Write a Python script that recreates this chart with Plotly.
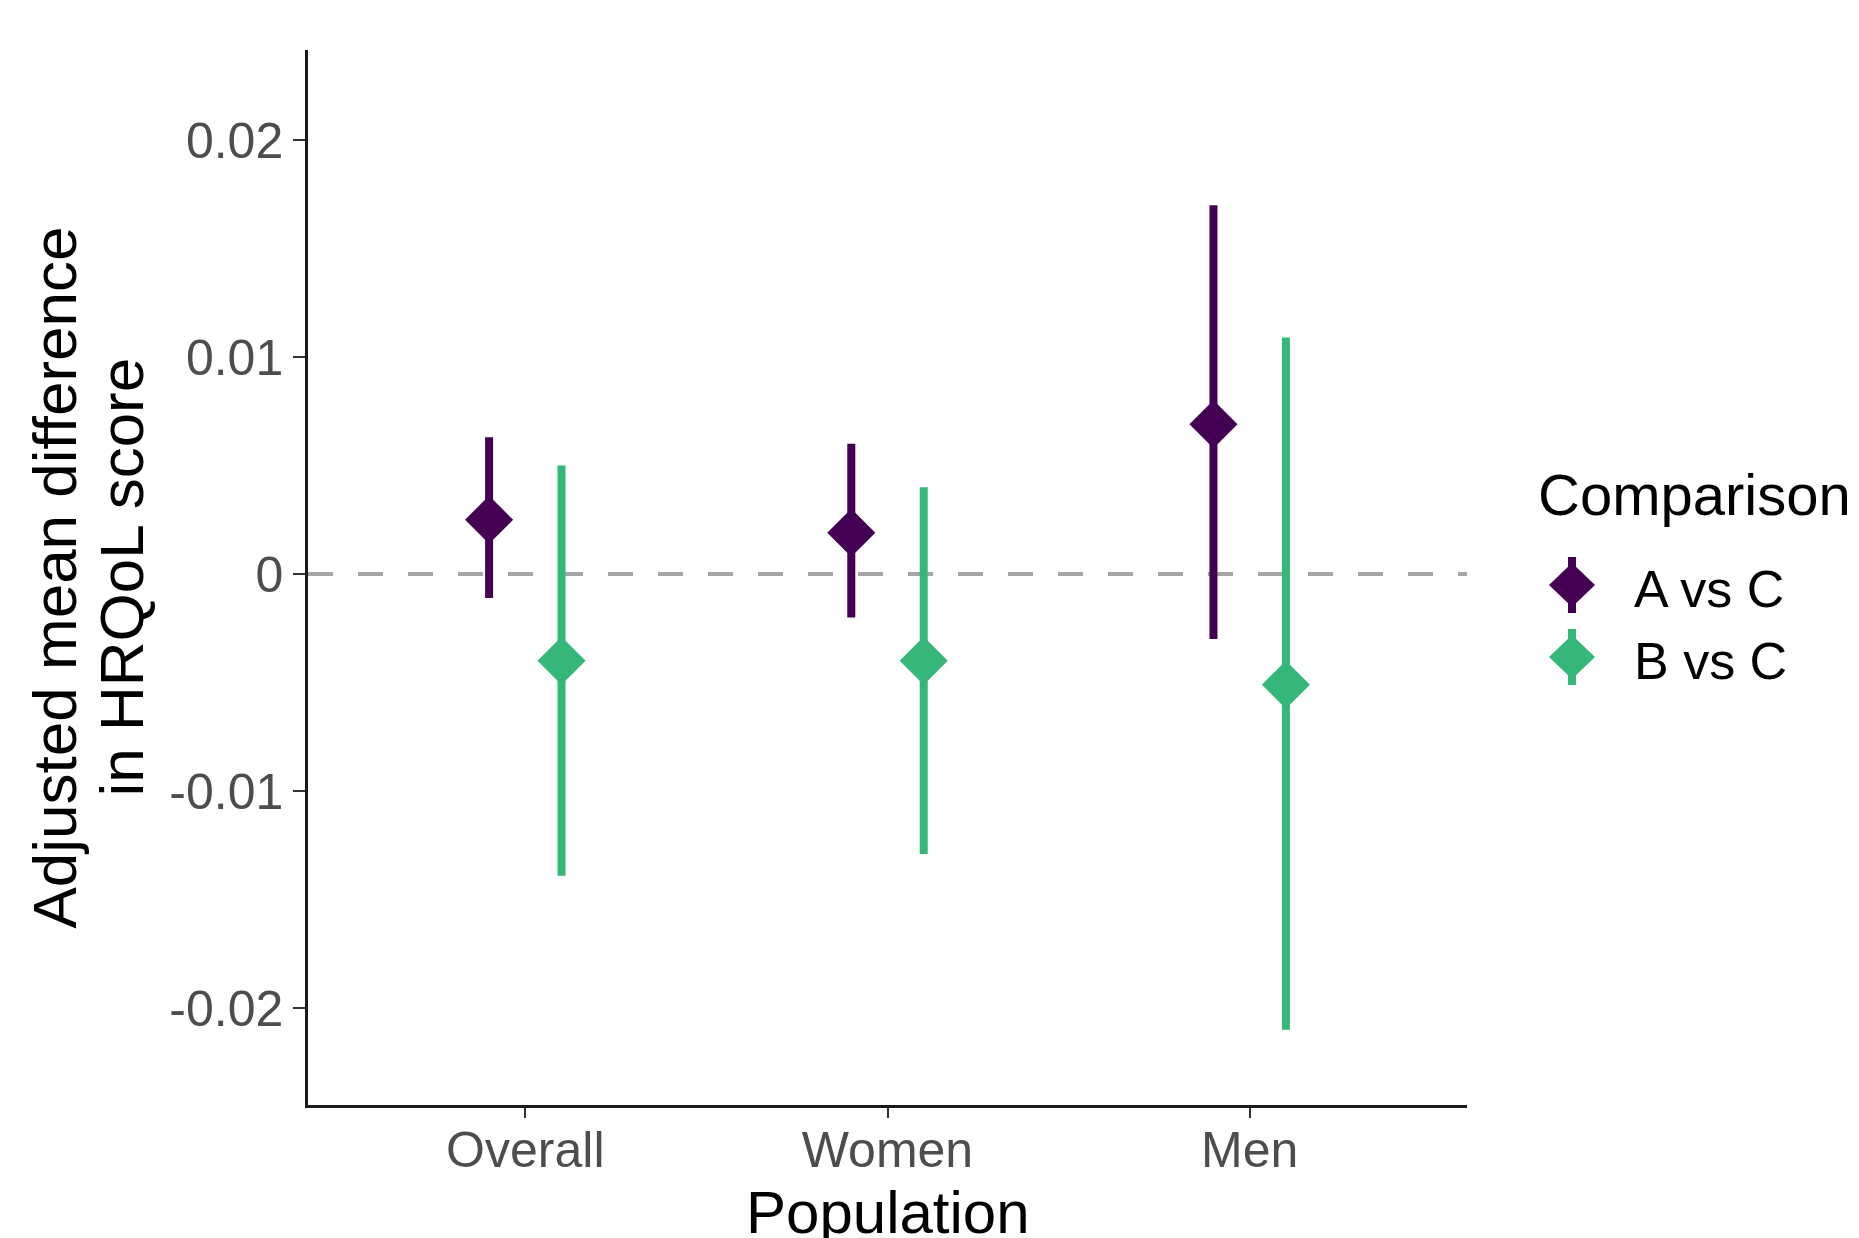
import plotly.graph_objects as go

# ---- data ----
populations = ["Overall", "Women", "Men"]
comparisons = ["A vs C", "B vs C"]
a_est = [0.0025, 0.0019, 0.0069]
a_low = [-0.0011, -0.0020, -0.0030]
a_high = [0.0063, 0.0060, 0.0170]
b_est = [-0.0040, -0.0040, -0.0051]
b_low = [-0.0139, -0.0129, -0.0210]
b_high = [0.0050, 0.0040, 0.0109]
y_ticks = [-0.02, -0.01, 0, 0.01, 0.02]
y_ticktext = ["-0.02", "-0.01", "0", "0.01", "0.02"]

colors = {"A vs C": "#440154", "B vs C": "#35B779"}
FONT = "Liberation Sans, Arial, sans-serif"

# the page body adds an 8px margin around the figure
OFF = 8
W, H = 1859 - OFF, 1238 - OFF
L, T = 308 - OFF, 50 - OFF
R = W - (1467 - OFF)
B = H - (1105 - OFF)
PW, PH = W - L - R, H - T - B


def px2x(px):  # page pixel -> paper x
    return (px - OFF - L) / PW


def px2y(py):  # page pixel -> paper y
    return (H - B - (py - OFF)) / PH


fig = go.Figure()
series = [
    ("A vs C", a_est, a_low, a_high, -0.1),
    ("B vs C", b_est, b_low, b_high, 0.1),
]
for name, est, low, high, dodge in series:
    xs = [i + 1 + dodge for i in range(len(populations))]
    fig.add_trace(go.Scatter(
        x=xs, y=est, mode="markers", name=name, showlegend=False,
        marker=dict(symbol="diamond", size=37, color=colors[name], line=dict(width=0)),
        error_y=dict(type="data", symmetric=False,
                     array=[h - e for h, e in zip(high, est)],
                     arrayminus=[e - l for e, l in zip(est, low)],
                     width=0, thickness=8, color=colors[name]),
        customdata=populations,
        hovertemplate="%{customdata}<br>%{y}<extra>" + name + "</extra>",
    ))

# zero reference line
fig.add_shape(type="line", xref="paper", yref="y", x0=0, x1=1, y0=0, y1=0,
              line=dict(color="#A6A6A6", width=4, dash="25px,25px"), layer="below")

fig.update_layout(
    width=W, height=H,
    margin=dict(l=L, r=R, t=T, b=B),
    plot_bgcolor="white", paper_bgcolor="white",
    font=dict(family=FONT),
    showlegend=False,
)
fig.update_xaxes(
    range=[0.4, 3.6], tickvals=[1, 2, 3], ticktext=populations,
    showgrid=False, zeroline=False, showline=True, linecolor="#1a1a1a", linewidth=2.5,
    ticks="outside", ticklen=10, tickwidth=2, tickcolor="#333333",
    ticklabelstandoff=-11,
    tickfont=dict(size=50, color="#4D4D4D", family=FONT),
)
fig.update_yaxes(
    range=[-0.02447, 0.02415], tickvals=y_ticks, ticktext=y_ticktext,
    showgrid=False, zeroline=False, showline=True, linecolor="#1a1a1a", linewidth=2.5,
    ticks="outside", ticklen=12, tickwidth=2, tickcolor="#333333",
    tickfont=dict(size=50, color="#4D4D4D", family=FONT),
)

# axis titles
fig.add_annotation(text="Population", xref="paper", yref="paper", x=0.5, y=0,
                   xanchor="center", yanchor="top", yshift=-72, showarrow=False,
                   font=dict(size=60, color="black", family=FONT))
fig.add_annotation(text="Adjusted mean difference", xref="paper", yref="paper",
                   x=px2x(54), y=0.5, xanchor="center", yanchor="middle",
                   textangle=-90, showarrow=False,
                   font=dict(size=62, color="black", family=FONT))
fig.add_annotation(text="in HRQoL score", xref="paper", yref="paper",
                   x=px2x(121), y=0.5, xanchor="center", yanchor="middle",
                   textangle=-90, showarrow=False,
                   font=dict(size=62, color="black", family=FONT))

# manual legend
fig.add_annotation(text="Comparison", xref="paper", yref="paper",
                   x=px2x(1536), y=px2y(494), xanchor="left", yanchor="middle",
                   showarrow=False, font=dict(size=58, color="black", family=FONT))
key_y = [585, 657]
label_y = [589, 661]
for name, ky, ly in zip(comparisons, key_y, label_y):
    fig.add_shape(type="line", xref="paper", yref="paper",
                  x0=px2x(1572), x1=px2x(1572), y0=px2y(ky - 28), y1=px2y(ky + 28),
                  line=dict(color=colors[name], width=8))
    fig.add_shape(type="path", xref="paper", yref="paper",
                  xsizemode="pixel", ysizemode="pixel",
                  xanchor=px2x(1572), yanchor=px2y(ky),
                  path="M -23,0 L 0,22 L 23,0 L 0,-22 Z",
                  fillcolor=colors[name], line=dict(width=0))
    fig.add_annotation(text=name, xref="paper", yref="paper",
                       x=px2x(1632), y=px2y(ly), xanchor="left", yanchor="middle",
                       showarrow=False, font=dict(size=52, color="black", family=FONT))

fig.write_html("out.html")
